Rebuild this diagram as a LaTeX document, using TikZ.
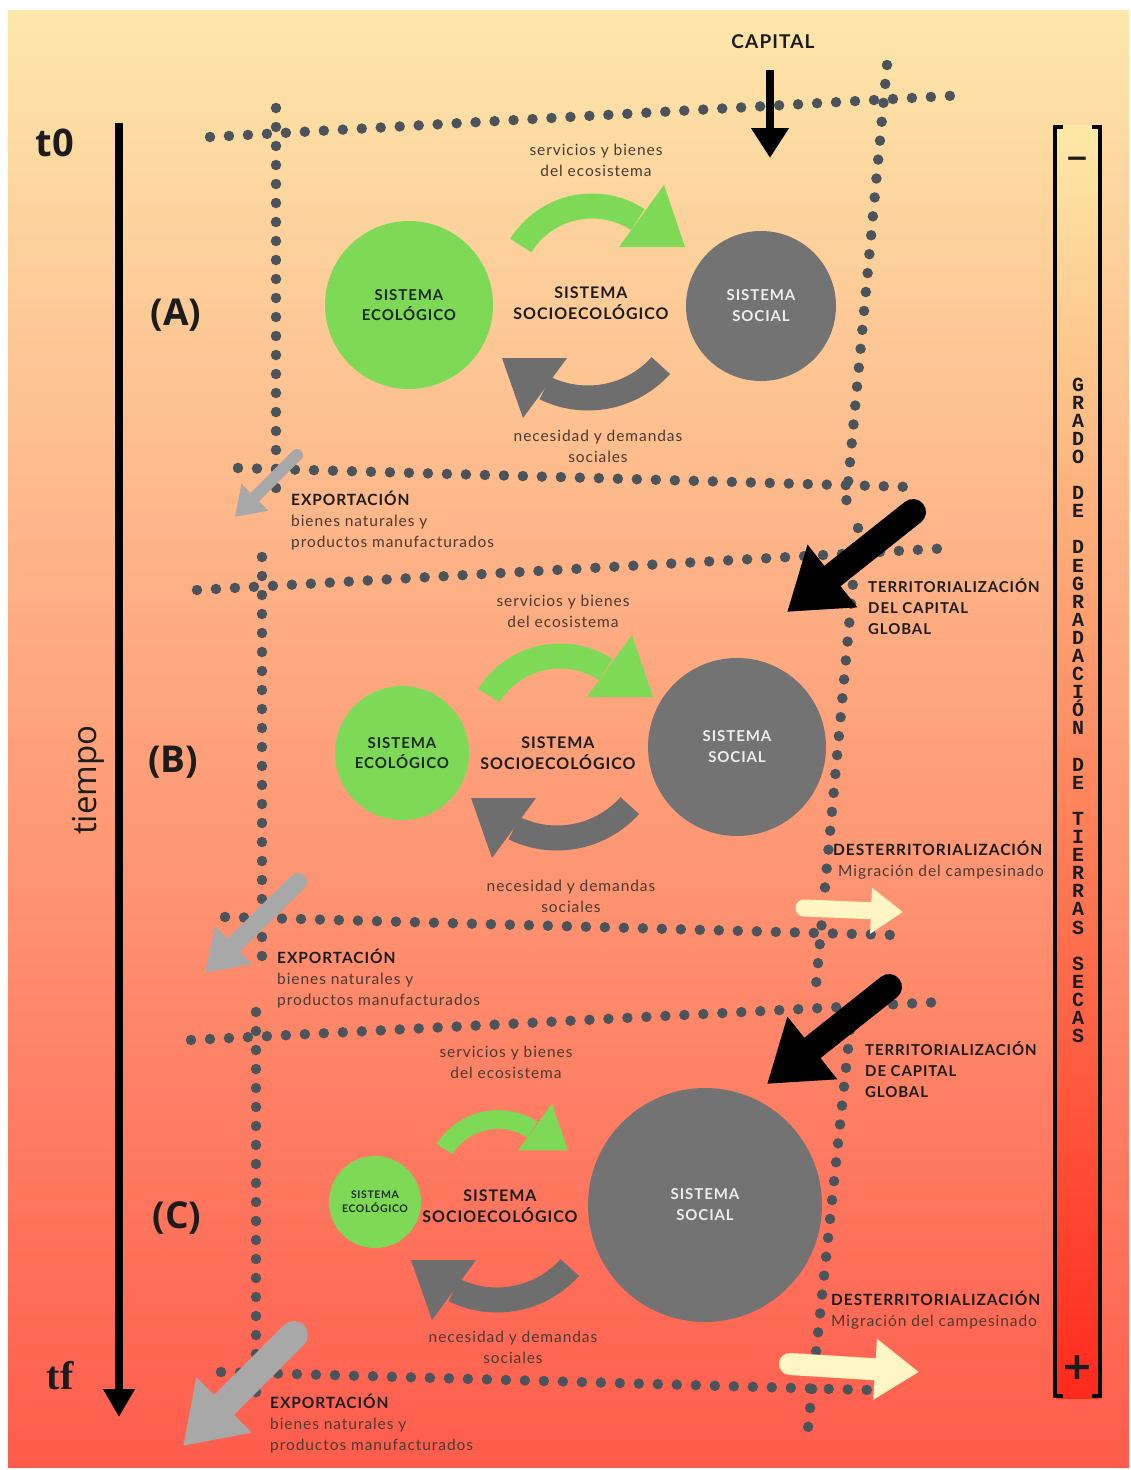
\documentclass[tikz,border=0pt]{standalone}
\usepackage{fontspec}
\setmainfont{Lato}[LetterSpace=6]
\newfontfamily\osans{Open Sans}
\newfontfamily\monof{Liberation Mono}
\newfontfamily\lserif{Liberation Serif}
\newfontfamily\djv{DejaVu Sans}
\usetikzlibrary{arrows.meta}
\definecolor{dotc}{HTML}{4C545B}
\definecolor{greenc}{HTML}{7ED957}
\definecolor{greyc}{HTML}{737373}
\definecolor{loopgrey}{HTML}{6E6E6E}
\definecolor{expgrey}{HTML}{A8A8A8}
\definecolor{cream}{HTML}{FFF6C4}
\definecolor{txt}{HTML}{4B3A33}
\definecolor{dark}{HTML}{1C1C1C}
\definecolor{ecotxt}{HTML}{1D2B1D}
\definecolor{soctxt}{HTML}{EDEDED}
\definecolor{bgtop}{HTML}{FDE7AA}
\definecolor{bgmid}{HTML}{F9AE85}
\definecolor{bgbot}{HTML}{FF5C4C}
\definecolor{bartop}{HTML}{FDE9A6}
\definecolor{barmid}{HTML}{FBA27A}
\definecolor{barbot}{HTML}{FF2A1E}
\newcommand{\GreenLoop}{%
  \fill[greenc] plot[domain=212:303,samples=30] ({592+96.5*cos(\x)},{290+96.5*sin(\x)})
    -- plot[domain=303:212,samples=30] ({592+71.5*cos(\x)},{290+71.5*sin(\x)}) -- cycle;
  \fill[greenc] (664,185) -- (685,247) -- (619,247) -- cycle;}
\newcommand{\GreyLoop}{%
  \fill[loopgrey] plot[domain=42:116,samples=30] ({588+110.5*cos(\x)},{300+110.5*sin(\x)})
    -- plot[domain=116:42,samples=30] ({588+85.5*cos(\x)},{300+85.5*sin(\x)}) -- cycle;
  \fill[loopgrey] (502,358) -- (567,358) -- (523,418) -- cycle;}
\begin{document}
\begin{tikzpicture}[x=1pt,y=-1pt,
  dots/.style={draw=dotc,line width=10.5pt,line cap=round,dash pattern=on 0pt off 19pt},
  smalltxt/.style={text=txt,font=\fontsize{15.5}{21}\selectfont,align=center,inner sep=0pt},
  sidetxt/.style={text=txt,font=\fontsize{15.5}{21}\selectfont,align=left,inner sep=0pt,anchor=north west},
  midlab/.style={text=dark,font=\bfseries\fontsize{16}{21}\selectfont,align=center,inner sep=0pt},
  ecocirc/.style={circle,fill=greenc,inner sep=0pt,text=ecotxt,align=center,font=\bfseries\fontsize{15}{20}\selectfont},
  soccirc/.style={circle,fill=greyc,inner sep=0pt,text=soctxt,align=center,font=\bfseries\fontsize{15}{21}\selectfont},
  bigarrow/.style={line width=26pt,line cap=round,-{Triangle[width=76pt,length=58pt]}},
  seclab/.style={text=dark,font=\osans\bfseries\fontsize{37}{40}\selectfont,inner sep=0pt},
  lettr/.style={text=dark,font=\monof\bfseries\fontsize{20}{20}\selectfont,inner sep=0pt,
    text height=11pt,text depth=0pt,anchor=base}
]
\useasboundingbox (0,0) rectangle (1131,1470);
\fill[white] (0,0) rectangle (1131,1470);
\shade[top color=bgtop,middle color=bgmid,bottom color=bgbot] (8,10) rectangle (1129,1467);

% ---- dotted frames
\coordinate (at1) at (210,137); \coordinate (at2) at (965,95);
\coordinate (al1) at (276,108); \coordinate (al2) at (276,502);
\coordinate (ar1) at (887,65);  \coordinate (ar2) at (846,505);
\coordinate (ab1) at (238,468); \coordinate (ab2) at (912,487);
\coordinate (bt1) at (197,590); \coordinate (bt2) at (950,548);
\coordinate (bl1) at (262,557); \coordinate (bl2) at (262,962);
\coordinate (br1) at (858,528); \coordinate (br2) at (816,985);
\coordinate (bb1) at (225,917); \coordinate (bb2) at (892,935);
\coordinate (ct1) at (191,1040); \coordinate (ct2) at (940,1002);
\coordinate (cl1) at (256,1012); \coordinate (cl2) at (256,1403);
\coordinate (cr1) at (850,1030); \coordinate (cr2) at (808,1428);
\coordinate (cb1) at (221,1372); \coordinate (cb2) at (868,1390);
\foreach \s in {a,b,c}{
  \draw[dots] (\s t1) -- (\s t2);
  \draw[dots] (\s l1) -- (\s l2);
  \draw[dots] (\s r1) -- (\s r2);
  \draw[dots] (\s b1) -- (\s b2);
}

% ---- timeline
\coordinate (tl1) at (119,123); \coordinate (tl2) at (119,1417);
\draw[line width=8pt,-{Triangle[width=30pt,length=28pt]}] (tl1) -- (tl2);
\node[text=dark,font=\osans\bfseries\fontsize{38}{40}\selectfont,inner sep=0pt] (t0) at (55,143) {t0};
\node[text=dark,font=\lserif\bfseries\fontsize{40}{42}\selectfont,inner sep=0pt] (tf) at (60,1376) {tf};
\node[text=dark,font=\osans\fontsize{33}{35}\selectfont,inner sep=0pt,rotate=90] (tiempo) at (88,780) {tiempo};
\node[seclab] (secA) at (176,315) {(A)};
\node[seclab] (secB) at (173,762) {(B)};
\node[seclab] (secC) at (177,1218) {(C)};

% ---- capital
\node[text=dark,font=\bfseries\fontsize{19}{21}\selectfont,inner sep=0pt] (capital) at (773,42) {CAPITAL};
\coordinate (cap1) at (770,70); \coordinate (cap2) at (770,158);
\draw[line width=8pt,-{Triangle[width=36pt,length=30pt]}] (cap1) -- (cap2);

% ---- section A
\node[ecocirc,minimum size=168pt] (ecoA) at (409,305) {SISTEMA\\ECOLÓGICO};
\node[soccirc,minimum size=150pt] (socA) at (761,306) {SISTEMA\\SOCIAL};
\node[midlab] (sseA) at (591,303) {SISTEMA\\SOCIOECOLÓGICO};
\GreenLoop
\GreyLoop
\node[smalltxt] (svA) at (596,160) {servicios y bienes\\del ecosistema};
\node[smalltxt] (ndA) at (598,446) {necesidad y demandas\\sociales};
\coordinate (exA1) at (297,455); \coordinate (exA2) at (235,517);
\draw[expgrey,line width=12pt,line cap=round,-{Triangle[width=36pt,length=28pt]}] (exA1) -- (exA2);
\node[sidetxt] (expA) at (291,491) {\textcolor{dark}{\bfseries EXPORTACIÓN}\\bienes naturales y\\productos manufacturados};

% ---- section B
\node[ecocirc,minimum size=134pt] (ecoB) at (402,753) {SISTEMA\\ECOLÓGICO};
\node[soccirc,minimum size=178pt] (socB) at (737,747) {SISTEMA\\SOCIAL};
\node[midlab] (sseB) at (558,753) {SISTEMA\\SOCIOECOLÓGICO};
\begin{scope}[shift={(-32,450)}] \GreenLoop \end{scope}
\begin{scope}[shift={(-31,440)}] \GreyLoop \end{scope}
\node[smalltxt] (svB) at (563,611) {servicios y bienes\\del ecosistema};
\node[smalltxt] (ndB) at (571,896) {necesidad y demandas\\sociales};
\coordinate (kB1) at (913,512); \coordinate (kB2) at (787,612);
\draw[bigarrow] (kB1) -- (kB2);
\node[sidetxt,text=dark,font=\bfseries\fontsize{15}{21}\selectfont] (terB) at (868,578) {TERRITORIALIZACIÓN\\DEL CAPITAL\\GLOBAL};
\node[sidetxt] (desB) at (833,841) {\textcolor{dark}{\bfseries DESTERRITORIALIZACIÓN}\\\hspace*{5pt}Migración del campesinado};
\coordinate (mB1) at (804,908); \coordinate (mB2) at (903,912);
\draw[cream,line width=17pt,line cap=round,-{Triangle[width=44pt,length=32pt]}] (mB1) -- (mB2);
\coordinate (exB1) at (298,882); \coordinate (exB2) at (205,973);
\draw[expgrey,line width=18pt,line cap=round,-{Triangle[width=50pt,length=40pt]}] (exB1) -- (exB2);
\node[sidetxt] (expB) at (277,949) {\textcolor{dark}{\bfseries EXPORTACIÓN}\\bienes naturales y\\productos manufacturados};

% ---- section C
\node[ecocirc,minimum size=92pt,font=\bfseries\fontsize{10.5}{14}\selectfont] (ecoC) at (375,1202) {SISTEMA\\ECOLÓGICO};
\node[soccirc,minimum size=234pt] (socC) at (705,1205) {SISTEMA\\SOCIAL};
\node[midlab] (sseC) at (500,1206) {SISTEMA\\SOCIOECOLÓGICO};
\begin{scope}[shift={(54,965)},scale=0.75] \GreenLoop \end{scope}
\begin{scope}[shift={(-91,902)}] \GreyLoop \end{scope}
\node[smalltxt] (svC) at (506,1062) {servicios y bienes\\del ecosistema};
\node[smalltxt] (ndC) at (513,1347) {necesidad y demandas\\sociales};
\coordinate (kC1) at (889,987); \coordinate (kC2) at (767,1084);
\draw[bigarrow] (kC1) -- (kC2);
\node[sidetxt,text=dark,font=\bfseries\fontsize{15}{21}\selectfont] (terC) at (865,1041) {TERRITORIALIZACIÓN\\DE CAPITAL\\GLOBAL};
\node[sidetxt] (desC) at (831,1291) {\textcolor{dark}{\bfseries DESTERRITORIALIZACIÓN}\\Migración del campesinado};
\coordinate (mC1) at (790,1364); \coordinate (mC2) at (919,1372);
\draw[cream,line width=22pt,line cap=round,-{Triangle[width=58pt,length=44pt]}] (mC1) -- (mC2);
\coordinate (exC1) at (294,1335); \coordinate (exC2) at (183,1446);
\draw[expgrey,line width=28pt,line cap=round,-{Triangle[width=74pt,length=58pt]}] (exC1) -- (exC2);
\node[sidetxt] (expC) at (270,1394) {\textcolor{dark}{\bfseries EXPORTACIÓN}\\bienes naturales y\\productos manufacturados};

% ---- degradation scale
\shade[top color=bartop,middle color=barmid,bottom color=barbot] (1056,125) rectangle (1099,1398);
\draw[line width=4pt] (1063,127) -- (1055,127) -- (1055,1396) -- (1063,1396);
\draw[line width=4pt] (1092,127) -- (1100,127) -- (1100,1396) -- (1092,1396);
\node[text=dark,font=\djv\bfseries\fontsize{28}{30}\selectfont,inner sep=0pt] (minus) at (1077,162) {−};
\node[text=dark,font=\djv\bfseries\fontsize{38}{40}\selectfont,inner sep=0pt] (plus) at (1077,1368) {+};
\foreach \ch [count=\i] in {G,R,A,D,O,{},D,E,{},D,E,G,R,A,D,A,C,I,Ó,N,{},D,E,{},T,I,E,R,R,A,S,{},S,E,C,A,S}
  \node[lettr] (gl\i) at (1078,{391+18.1*(\i-1)}) {\ch};
\end{tikzpicture}
\end{document}
